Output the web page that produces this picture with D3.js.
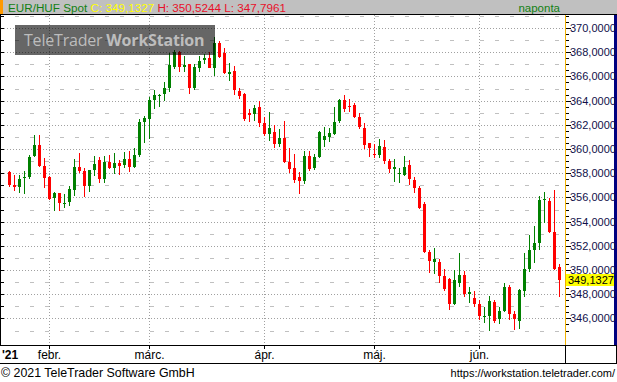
<!DOCTYPE html>
<html>
<head>
<meta charset="utf-8">
<script src="https://cdn.jsdelivr.net/npm/d3@7"></script>
<style>
  body { margin: 0; background: #fff; }
  svg text { font-family: "Liberation Sans", Arial, sans-serif; }
</style>
</head>
<body>
<div id="viz_container"></div>
<script>
// EUR/HUF daily candles, 2021
const openV = [358.13,357.05,356.89,357.63,357.71,359.42,360.33,358.60,357.71,355.92,356.36,355.48,355.65,356.61,358.51,358.18,356.97,358.26,359.09,357.55,358.90,358.46,358.82,358.68,359.15,358.54,359.50,362.26,362.45,364.05,364.43,364.55,365.01,366.80,367.99,366.80,367.00,365.01,366.72,367.38,367.55,366.72,368.79,367.91,366.20,366.47,364.82,364.55,362.98,362.89,363.44,362.15,361.24,361.40,360.41,360.94,358.93,358.43,357.71,357.38,359.42,358.46,359.37,360.74,361.02,361.24,362.31,364.05,363.55,363.66,362.67,361.76,360.47,359.62,359.50,360.14,359.01,358.35,357.96,357.85,358.65,357.44,356.75,355.45,351.46,350.69,350.66,349.50,349.26,347.22,348.95,349.59,348.02,347.69,347.22,346.14,346.23,347.38,345.92,346.61,348.60,346.39,345.81,348.26,350.08,351.65,352.26,355.79,355.70,353.11,350.22];
const highV = [358.21,357.85,357.85,358.18,359.50,361.16,361.16,359.28,357.75,356.47,356.40,356.28,356.97,359.17,359.64,358.40,358.30,359.42,359.37,359.42,359.50,359.70,359.09,359.78,359.83,360.11,362.48,362.73,364.33,364.88,364.55,365.56,367.96,368.18,368.10,367.71,367.05,367.00,367.69,367.85,367.99,369.23,368.93,368.37,367.13,366.86,365.07,364.60,363.28,363.64,363.99,362.67,363.09,361.98,361.63,362.34,360.11,359.59,358.07,359.83,359.83,359.56,361.52,361.85,361.71,363.44,364.16,364.46,364.13,363.77,362.95,362.12,360.52,360.41,360.83,360.74,359.17,359.17,358.43,359.42,359.09,357.66,356.94,355.62,351.65,351.82,350.91,350.08,349.30,350.00,351.40,349.92,348.60,348.26,347.52,346.94,347.88,347.54,346.94,348.93,348.76,346.64,348.43,351.40,352.89,353.64,356.12,356.45,355.98,356.61,350.5244];
const lowV = [356.89,356.56,356.34,356.28,357.55,359.31,358.48,356.80,355.78,354.90,354.90,355.10,355.32,356.14,358.04,356.06,356.47,357.77,357.16,357.22,358.32,357.93,357.85,358.40,358.13,358.40,359.37,360.52,360.80,363.28,363.44,363.97,364.74,366.61,366.39,366.39,364.55,364.88,366.39,367.00,366.67,366.03,367.55,366.20,365.62,364.46,364.13,362.34,362.26,362.34,361.85,361.07,360.69,360.11,360.14,358.82,357.99,357.16,356.28,357.11,358.15,358.26,359.28,360.19,360.55,361.16,362.18,363.09,363.09,362.53,361.65,359.97,359.37,359.28,359.23,358.76,358.04,357.30,357.22,357.77,357.02,356.34,355.04,351.38,349.78,349.70,348.95,348.29,346.72,347.13,348.62,347.80,347.30,346.97,345.87,345.65,344.99,345.65,345.54,346.50,345.87,345.04,345.12,347.80,349.83,350.61,351.65,353.91,353.03,350.00,347.7961];
const closeV = [357.02,356.89,357.52,357.71,359.37,360.33,358.60,357.63,355.84,356.39,355.56,355.56,356.69,358.51,358.18,356.94,358.26,358.76,357.52,358.90,358.43,358.82,358.60,359.15,358.48,359.50,362.23,362.59,364.05,364.46,364.46,365.01,366.94,367.99,366.80,366.94,365.01,366.80,367.30,367.55,366.72,368.79,367.63,366.31,366.39,364.88,364.38,362.45,362.81,363.39,362.18,361.24,361.76,360.39,360.94,358.95,358.35,357.44,357.36,359.42,358.35,359.37,361.40,361.10,361.35,362.23,364.05,363.33,363.47,362.67,361.79,360.33,360.11,359.55,360.25,359.04,358.35,358.51,358.00,358.48,357.55,356.80,355.15,351.49,350.77,350.91,349.53,348.40,347.22,349.17,349.59,348.02,348.18,347.22,346.23,346.23,347.47,345.81,346.61,348.60,346.39,345.95,348.35,350.08,351.65,352.26,355.79,355.87,353.11,350.08,349.1327];

// month labels and index of their first candle
const monthLabels = ["febr.", "márc.", "ápr.", "máj.", "jún."];
const monthStart = [8, 28, 51, 73, 94];
const yearLabel = "'21";
const yLabelTicks = [346, 348, 350, 352, 354, 356, 358, 360, 362, 364, 366, 368, 370];

const W = 617, H = 382;
const plotTop = 15, plotBottom = 345, plotRight = 565;

const svg = d3.select("#viz_container")
    .append("svg")
    .attr("width", W)
    .attr("height", H);

const data = openV.map((o, i) => ({ i: i, o: o, h: highV[i], l: lowV[i], c: closeV[i] }));

// scales
const xScale = d3.scaleBand()
    .domain(d3.range(data.length))
    .range([7, 7 + 5 * data.length]);
const xc = i => Math.floor(xScale(i) + xScale.bandwidth() / 2) + 0.5;
const yScale = d3.scaleLinear()
    .domain([346, 370])
    .range([318.4, 28]);
const yc = v => Math.round(yScale(v)) + 0.5;

const loc = d3.formatLocale({ decimal: ",", thousands: "", grouping: [3], currency: ["", ""] });
const fmt = loc.format(".4f");

// horizontal grid: dotted at even levels, short dashes at odd levels
const grid = svg.append("g").attr("shape-rendering", "crispEdges");
d3.range(345, 372).forEach(v => {
    const even = v % 2 === 0;
    grid.append("line")
        .attr("x1", even ? 1 : 15).attr("x2", plotRight)
        .attr("y1", yc(v)).attr("y2", yc(v))
        .attr("stroke", even ? "#a0a0a0" : "#c0c0c0")
        .attr("stroke-dasharray", even ? "1,2" : "4,11");
});

// vertical grid at month starts
monthStart.forEach(s => {
    grid.append("line")
        .attr("x1", xc(s)).attr("x2", xc(s))
        .attr("y1", plotTop).attr("y2", plotBottom)
        .attr("stroke", "#a0a0a0")
        .attr("stroke-dasharray", "1,2");
});

// candles
const candles = svg.append("g").attr("shape-rendering", "crispEdges")
    .selectAll("g")
    .data(data)
    .join("g");
candles.append("line")
    .attr("x1", d => xc(d.i)).attr("x2", d => xc(d.i))
    .attr("y1", d => yScale(d.h)).attr("y2", d => yScale(d.l))
    .attr("stroke", d => d.c >= d.o ? "#008000" : "#ff0000");
candles.append("rect")
    .attr("x", d => xc(d.i) - 1.5)
    .attr("width", 3)
    .attr("y", d => yScale(Math.max(d.o, d.c)))
    .attr("height", d => Math.max(1, Math.abs(yScale(d.o) - yScale(d.c))))
    .attr("fill", d => d.c >= d.o ? "#008000" : "#ff0000");

// watermark
svg.append("rect")
    .attr("x", 15).attr("y", 25).attr("width", 200).attr("height", 30)
    .attr("fill", "#000").attr("opacity", 0.6);
const wm = svg.append("text")
    .attr("x", 24).attr("y", 46)
    .attr("fill", "#bdbdbd")
    .style("font-family", "'Open Sans', sans-serif")
    .style("font-size", "16px")
    .style("letter-spacing", "-0.2px");
wm.append("tspan").text("TeleTrader ");
wm.append("tspan").attr("font-weight", "bold").text("WorkStation");

// left edge and ticks
const frame = svg.append("g").attr("shape-rendering", "crispEdges");
frame.append("line").attr("x1", 0.5).attr("x2", 0.5).attr("y1", plotTop).attr("y2", plotBottom).attr("stroke", "#000");
d3.range(346, 372).forEach(v => {
    frame.append("line").attr("x1", 0).attr("x2", 4)
        .attr("y1", yc(v)).attr("y2", yc(v)).attr("stroke", "#000");
});

// right axis panel
frame.append("line").attr("x1", plotRight + 0.5).attr("x2", plotRight + 0.5)
    .attr("y1", plotTop).attr("y2", plotBottom).attr("stroke", "#f0b000");
frame.append("rect").attr("x", 614).attr("y", plotTop).attr("width", 3).attr("height", plotBottom - plotTop)
    .attr("fill", "#000080");
d3.range(345, 371.5, 0.5).forEach(v => {
    const major = v % 2 === 0;
    frame.append("line").attr("x1", plotRight + 1).attr("x2", plotRight + (major ? 6 : 4))
        .attr("y1", yc(v)).attr("y2", yc(v)).attr("stroke", "#000");
});
svg.append("g")
    .selectAll("text")
    .data(yLabelTicks)
    .join("text")
    .attr("x", 570)
    .attr("y", d => yScale(d) + 4)
    .attr("fill", "#10104a")
    .style("font-size", "11px")
    .text(d => fmt(d));

// last price marker
const last = data[data.length - 1];
svg.append("rect")
    .attr("x", 566).attr("y", Math.round(yScale(last.c)) - 6)
    .attr("width", 48).attr("height", 12)
    .attr("fill", "#ffff00");
svg.append("text")
    .attr("x", 568).attr("y", yScale(last.c) + 4)
    .attr("fill", "#000")
    .style("font-size", "11px")
    .text(fmt(last.c));

// header bar
svg.append("rect").attr("x", 0).attr("y", 0).attr("width", W).attr("height", 14).attr("fill", "#c0c0c0");
svg.append("rect").attr("x", 0).attr("y", 0).attr("width", 3).attr("height", 14).attr("fill", "#ff9900");
frame.append("line").attr("x1", 0).attr("x2", W).attr("y1", 14.5).attr("y2", 14.5).attr("stroke", "#000");
const title = svg.append("text").attr("x", 8).attr("y", 11.5).style("font-size", "11.7px");
title.append("tspan").attr("fill", "#138013").text("EUR/HUF Spot ");
title.append("tspan").attr("fill", "#ffff00").text("C: " + fmt(last.c) + " ");
title.append("tspan").attr("fill", "#e8102a").text("H: " + fmt(last.h) + " L: " + fmt(last.l));
svg.append("text").attr("x", 560).attr("y", 11.5).attr("text-anchor", "end")
    .attr("fill", "#138013").style("font-size", "11.5px").text("naponta");

// bottom axis row
frame.append("line").attr("x1", 0).attr("x2", W).attr("y1", 345.5).attr("y2", 345.5).attr("stroke", "#000");
frame.append("line").attr("x1", 0).attr("x2", W).attr("y1", 363.5).attr("y2", 363.5).attr("stroke", "#000");
frame.append("line").attr("x1", plotRight + 0.5).attr("x2", plotRight + 0.5).attr("y1", 345).attr("y2", 364).attr("stroke", "#000");
frame.append("line").attr("x1", 616.5).attr("x2", 616.5).attr("y1", 345).attr("y2", 364).attr("stroke", "#000");
monthStart.forEach(s => {
    frame.append("line").attr("x1", xc(s)).attr("x2", xc(s)).attr("y1", 345).attr("y2", 349).attr("stroke", "#000");
});
svg.append("text").attr("x", 2).attr("y", 359)
    .attr("font-weight", "bold").style("font-size", "12px").text(yearLabel);
svg.append("g")
    .selectAll("text")
    .data(monthLabels)
    .join("text")
    .attr("x", (d, k) => xc(monthStart[k]))
    .attr("y", 359)
    .attr("text-anchor", "middle")
    .style("font-size", "12px")
    .text(d => d);

// footer
svg.append("text").attr("x", 1).attr("y", 377).style("font-size", "12.4px")
    .text("© 2021 TeleTrader Software GmbH");
svg.append("text").attr("x", 615).attr("y", 377).attr("text-anchor", "end").style("font-size", "11px")
    .text("https://workstation.teletrader.com/");
</script>
</body>
</html>
